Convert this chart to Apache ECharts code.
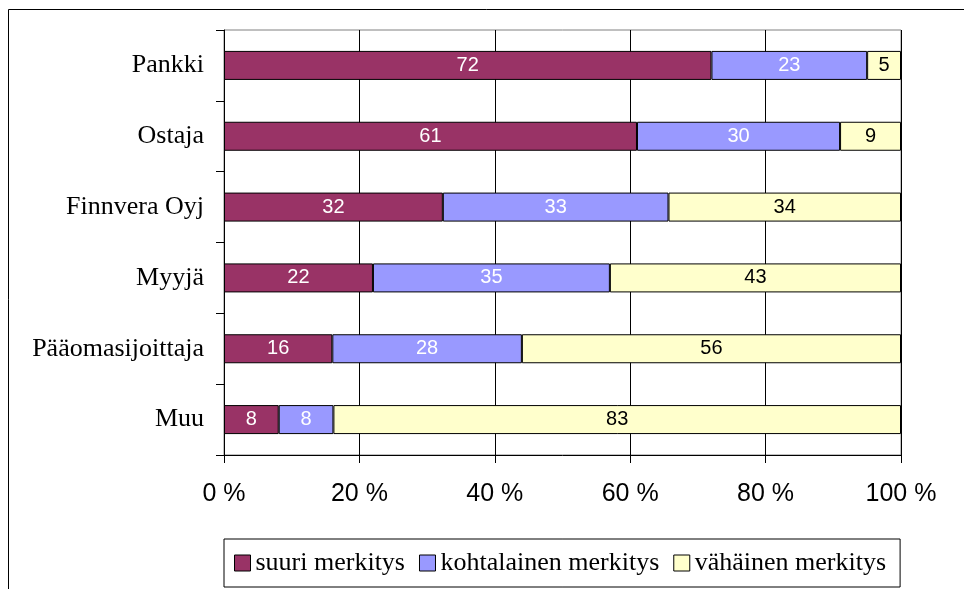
<!DOCTYPE html>
<html>
<head>
<meta charset="utf-8">
<script src="https://cdn.jsdelivr.net/npm/echarts@6/dist/echarts.min.js"></script>
<style>
  html, body { margin: 0; padding: 0; background: #fff; }
  #main { width: 964px; height: 589px; }
</style>
</head>
<body>
<div id="main"></div>
<script>
// kategoriat ja vastausten jakaumat (%)
var categories = ['Pankki', 'Ostaja', 'Finnvera Oyj', 'Myyjä', 'Pääomasijoittaja', 'Muu'];
var suuri = [72, 61, 32, 22, 16, 8];
var kohtalainen = [23, 30, 33, 35, 28, 8];
var vahainen = [5, 9, 34, 43, 56, 83];
var seriesNames = ['suuri merkitys', 'kohtalainen merkitys', 'vähäinen merkitys'];
var xTicks = [0, 20, 40, 60, 80, 100];

var totals = categories.map(function (c, i) {
  return suuri[i] + kohtalainen[i] + vahainen[i];
});

// 100 % pinottu: jokainen pylväs skaalataan omaan summaansa
function share(arr) {
  return arr.map(function (v, i) { return v / totals[i] * 100; });
}

function makeSeries(name, raw, color, labelColor) {
  return {
    name: name,
    type: 'bar',
    stack: 'total',
    barWidth: 29,
    data: share(raw),
    itemStyle: { color: color, borderColor: '#000', borderWidth: 1 },
    label: {
      show: true,
      position: 'inside',
      color: labelColor,
      fontFamily: 'Liberation Sans',
      fontSize: 20,
      formatter: function (p) { return raw[p.dataIndex]; }
    }
  };
}

var chart = echarts.init(document.getElementById('main'));
chart.setOption({
  animation: false,
  backgroundColor: '#fff',
  graphic: [{
    type: 'rect',
    shape: { x: 8.5, y: 9.5, width: 1200, height: 1200 },
    style: { fill: 'none', stroke: '#000', lineWidth: 1 },
    silent: true
  }],
  grid: {
    left: 224, right: 63, top: 30, bottom: 134,
    show: true, borderColor: '#808080', borderWidth: 1
  },
  legend: {
    left: 224, top: 539,
    data: seriesNames,
    icon: 'rect',
    itemWidth: 16, itemHeight: 16,
    itemGap: 14,
    padding: [11, 14, 11, 10],
    borderColor: '#000', borderWidth: 1,
    itemStyle: { borderColor: '#000', borderWidth: 1 },
    textStyle: { color: '#000', fontFamily: 'Liberation Serif', fontSize: 26 }
  },
  xAxis: {
    type: 'value',
    min: xTicks[0], max: xTicks[xTicks.length - 1], interval: 20,
    axisLine: { show: true, lineStyle: { color: '#000' } },
    axisTick: { show: true, length: 8, lineStyle: { color: '#000' } },
    splitLine: { show: true, lineStyle: { color: '#000', width: 1 } },
    axisLabel: {
      color: '#000', fontFamily: 'Liberation Sans', fontSize: 25, margin: 27,
      formatter: '{value} %'
    }
  },
  yAxis: {
    type: 'category',
    inverse: true,
    data: categories,
    axisLine: { show: true, lineStyle: { color: '#000' } },
    axisTick: { show: true, length: 8, lineStyle: { color: '#000' } },
    axisLabel: { color: '#000', fontFamily: 'Liberation Serif', fontSize: 26, margin: 20 }
  },
  series: [
    makeSeries(seriesNames[0], suuri, '#993366', '#fff'),
    makeSeries(seriesNames[1], kohtalainen, '#9999FF', '#fff'),
    makeSeries(seriesNames[2], vahainen, '#FFFFCC', '#000')
  ]
});
</script>
</body>
</html>
